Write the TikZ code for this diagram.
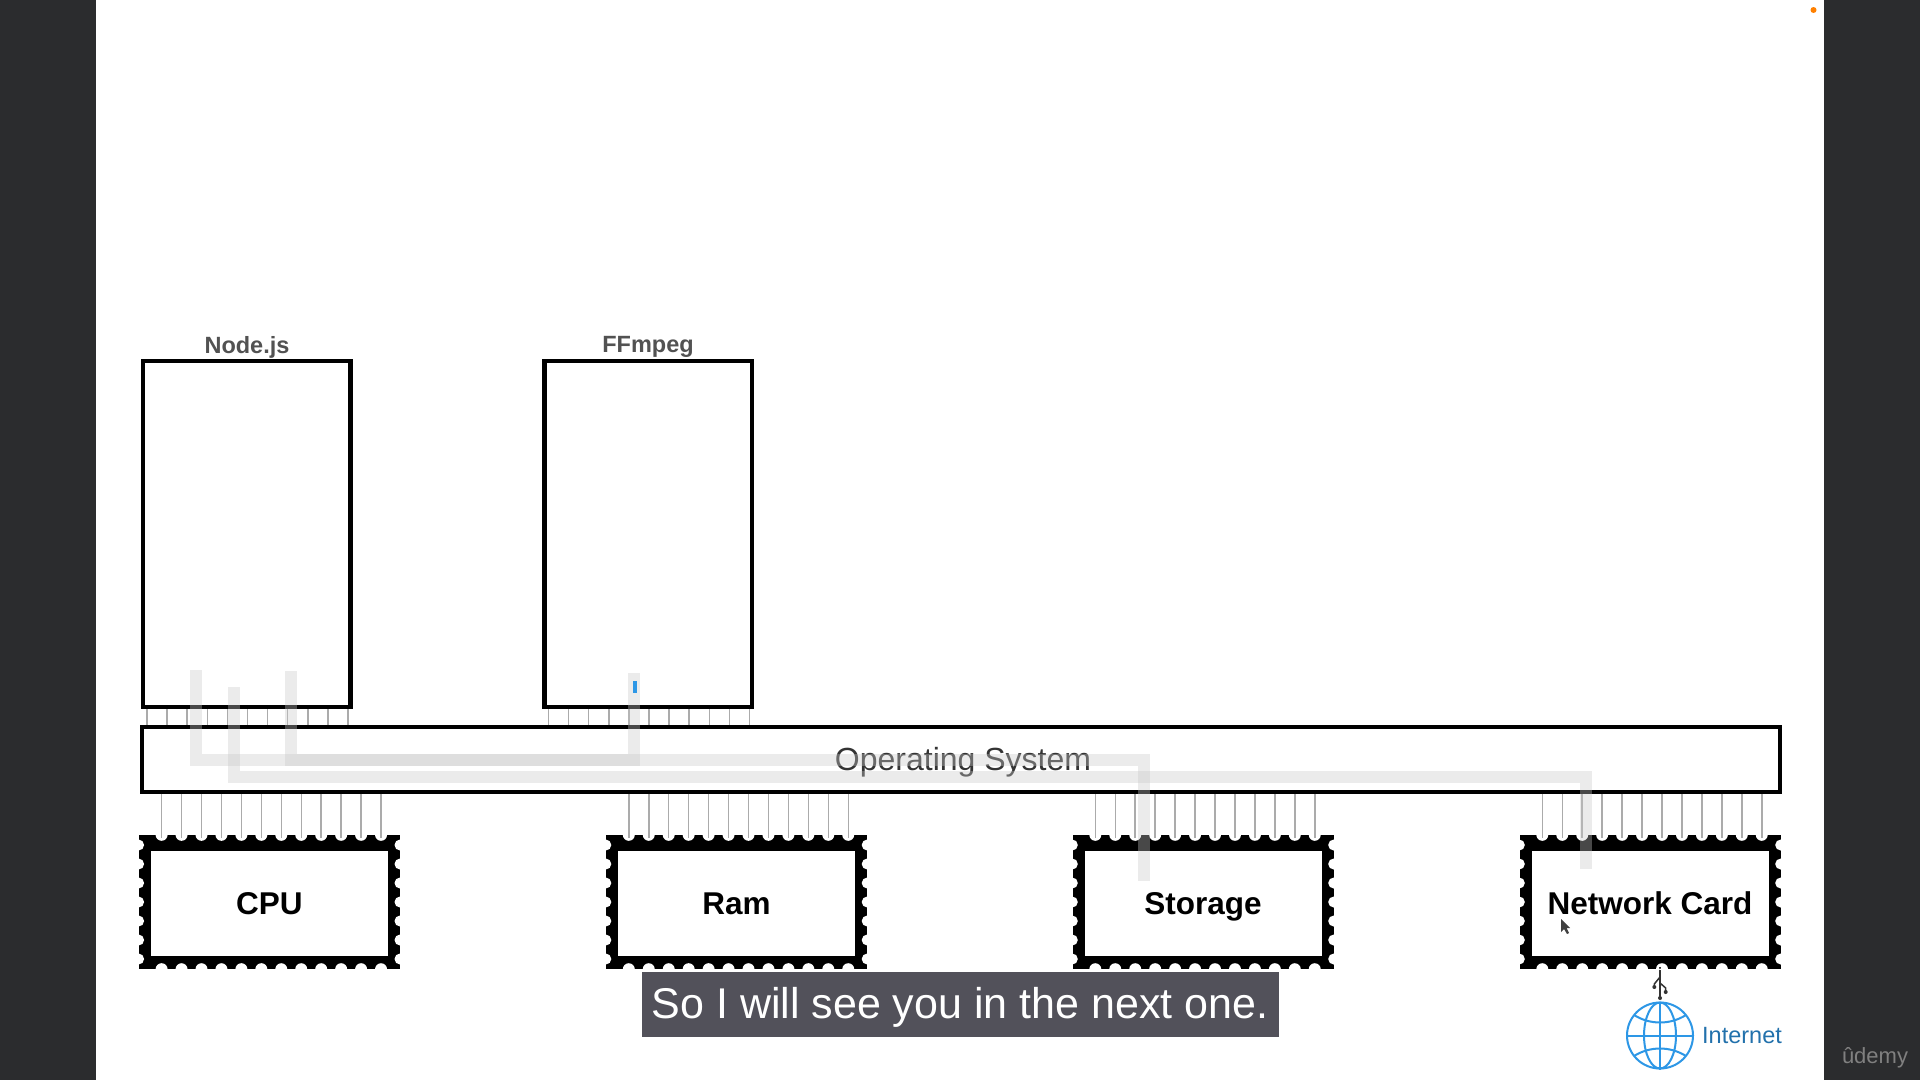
\documentclass[tikz,border=0pt]{standalone}
\usepackage{fontspec}
\setmainfont{Liberation Sans}
\usetikzlibrary{positioning}
\definecolor{sidedark}{HTML}{2B2C2E}
\definecolor{capgray}{HTML}{52515A}
\definecolor{netblue}{HTML}{2D97E6}
\tikzset{
  appbox/.style={draw=black, line width=4.5pt, fill=white, inner sep=0pt, minimum width=207.5pt, minimum height=346pt},
  applabel/.style={font=\fontsize{23.5}{28}\selectfont\bfseries, text=black!68},
  chipbody/.style={fill=black, inner sep=0pt, minimum width=261pt, minimum height=134pt},
  chipface/.style={fill=white, inner sep=0pt, minimum width=237pt, minimum height=105pt, text height=23pt, text depth=6pt,
    font=\fontsize{31.5}{38}\selectfont\bfseries},
  pinline/.style={draw=black!33, line width=1.5pt},
  trail/.style={draw=black!21, line width=12pt, opacity=.36},
  globeline/.style={draw=netblue, line width=2pt}
}
\begin{document}
\begin{tikzpicture}[x=1pt, y=-1pt]
\useasboundingbox (0,0) rectangle (1920,1080);
\fill[white] (0,0) rectangle (1920,1080);
\fill[sidedark] (0,0) rectangle (96,1080);
\fill[sidedark] (1824,0) rectangle (1920,1080);
\fill[orange] (1813.5,10) circle[radius=3pt];

% programs
\node[appbox] (nodejs) at (246.5,534) {};
\node[appbox] (ffmpeg) at (648,534) {};
\node[applabel] (nodejslabel) at (247,347) {Node.js};
\node[applabel] (ffmpeglabel) at (648,347) {FFmpeg};

% operating system
\node[draw=black, line width=4pt, fill=white, inner sep=0pt, minimum width=1638pt, minimum height=65pt] (os) at (961,759.3) {};
\node[font=\fontsize{32}{38}\selectfont, text=black!80, inner sep=0pt] (oslabel) at (963,762.5) {Operating System};

\foreach \boxname/\cx in {nodejs/247, ffmpeg/648.5} {
  \foreach \i in {0,...,10} {
    \pgfmathsetmacro\pinx{\cx-100+20.1*\i}
    \draw[pinline] (\pinx,0 |- \boxname.south) -- (\pinx,0 |- os.north);
  }
}

% hardware
\foreach \chipname/\cx/\chiptext in {cpu/269.3/CPU, ram/736.5/Ram, storage/1203/Storage, network/1650/Network Card} {
  \node[chipbody] (\chipname) at (\cx,902) {};
  \foreach \i in {0,...,11} {
    \pgfmathsetmacro\pinx{\cx-107.7+19.95*\i}
    \fill[white, yshift=2pt] (\pinx,0 |- \chipname.north) circle[radius=6pt];
    \fill[white, yshift=-2pt] (\pinx,0 |- \chipname.south) circle[radius=6pt];
    \draw[pinline, shorten >=-3pt] (\pinx,0 |- os.south) -- (\pinx,0 |- \chipname.north);
  }
  \foreach \j in {0,...,6} {
    \pgfmathsetmacro\piny{845+19*\j}
    \fill[white, xshift=-1.5pt] (\chipname.west |- 0,\piny) circle[radius=5.5pt];
    \fill[white, xshift=1.5pt] (\chipname.east |- 0,\piny) circle[radius=5.5pt];
  }
  \node[chipface] (\chipname face) at (\cx,903) {};
  \node[inner sep=0pt, text height=23pt, text depth=6pt, font=\fontsize{31.5}{38}\selectfont\bfseries] (\chipname label) at (\cx,905.5) {\chiptext};
}

% request trails
\draw[trail] (196,670) -- (196,760) -- (1143.6,760) -- (1143.6,881);
\draw[trail] (234,687) -- (234,777) -- (1586,777) -- (1586,869);
\draw[trail] (291,671) -- (291,760) -- (634,760) -- (634,673);
\fill[netblue] (633,681) rectangle (637,693);

% cursor
\fill[black!75] (1561,919) -- (1561,932) -- (1564,929) -- (1567,934) -- (1569,933) -- (1566.5,928) -- (1570,928) -- cycle;

% internet
\node[circle, draw=netblue, line width=2pt, inner sep=0pt, minimum size=66pt] (globe) at (1660,1035.5) {};
\draw[globeline] (globe.north) -- (globe.south);
\draw[globeline] (globe.west) -- (globe.east);
\draw[globeline] (globe.center) ellipse[x radius=16pt, y radius=33pt];
\draw[globeline] (1634,1015) .. controls (1650,1025) and (1670,1025) .. (1686,1015);
\draw[globeline] (1634,1056) .. controls (1650,1046) and (1670,1046) .. (1686,1056);
\node[font=\fontsize{23.5}{28}\selectfont, text=netblue!75!black, inner sep=0pt] (internet) at (1742,1036) {Internet};

% usb link
\coordinate (usbtop) at (1660,967);
\coordinate (usbbottom) at (1660,998);
\draw[line width=1.5pt, black!80] (usbtop) -- (usbbottom);
\draw[line width=1.5pt, black!80] (1660,977) -- (1654.3,984) -- (1654.3,987);
\draw[line width=1.5pt, black!80] (1660,983) -- (1665.7,988) -- (1665.7,992);
\fill[black!80] (usbbottom) circle[radius=2pt];
\fill[black!80] (1654.3,987) circle[radius=2pt];
\fill[black!80] (1665.7,992) circle[radius=2pt];
\draw[white, line width=1pt] (usbtop) circle[radius=2.5pt];

% subtitle
\node[fill=capgray, inner sep=0pt, minimum width=637pt, minimum height=65pt] (caption) at (960,1004.5) {};
\node[text=white, inner sep=0pt, font=\fontsize{43}{52}\selectfont] (captiontext) at (960,1007.5) {So I will see you in the next one.};
\node[text=black!50, font=\fontsize{22}{26}\selectfont, inner sep=0pt] (udemy) at (1875,1058) {ûdemy};
\end{tikzpicture}
\end{document}
